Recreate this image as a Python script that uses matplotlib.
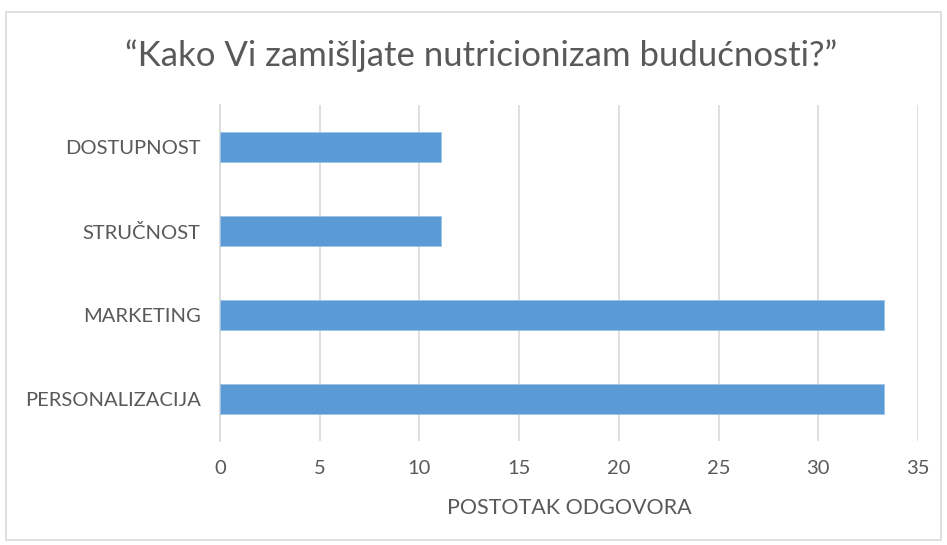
import matplotlib
matplotlib.use("Agg")
import matplotlib.pyplot as plt
from matplotlib.patches import Rectangle

categories = ["PERSONALIZACIJA", "MARKETING", "STRUČNOST", "DOSTUPNOST"]
values = [33.3, 33.3, 11.1, 11.1]
x_ticks = [0, 5, 10, 15, 20, 25, 30, 35]

plt.rcParams['font.family'] = ['Lato', 'DejaVu Sans']
text_col = "#595959"
grid_col = "#d9d9d9"

fig = plt.figure(figsize=(9.47, 5.45), dpi=100)
ax = fig.add_axes([0.2323, 0.1908, 0.7371, 0.6165])

ax.barh(range(len(categories)), values, height=0.35, color="#5b9bd5",
        edgecolor="#9dc3e6", linewidth=0.6, zorder=3)

ax.set_xlim(0, 35)
ax.set_ylim(-0.5, len(categories) - 0.5)
ax.set_xticks(x_ticks)
ax.set_yticks(range(len(categories)))
ax.set_yticklabels(categories)

ax.grid(axis="x", color=grid_col, linewidth=1.2, zorder=0)
for s in ["top", "right", "bottom"]:
    ax.spines[s].set_visible(False)
ax.spines["left"].set_color(grid_col)
ax.spines["left"].set_linewidth(1.2)
ax.tick_params(axis="both", length=0, labelsize=14.5, colors=text_col)
ax.tick_params(axis="x", pad=14)
ax.tick_params(axis="y", pad=14)

ax.set_xlabel("POSTOTAK ODGOVORA", fontsize=15.5, color=text_col, labelpad=15)
fig.text(0.508, 0.898, "\u201cKako Vi zamišljate nutricionizam budućnosti?\u201d",
         ha="center", va="center", fontsize=25, color=text_col)

fig.patches.append(Rectangle((0.006, 0.01), 0.988, 0.968, transform=fig.transFigure,
                             fill=False, edgecolor=grid_col, linewidth=1.2))

fig.savefig("out.png", dpi=100)
